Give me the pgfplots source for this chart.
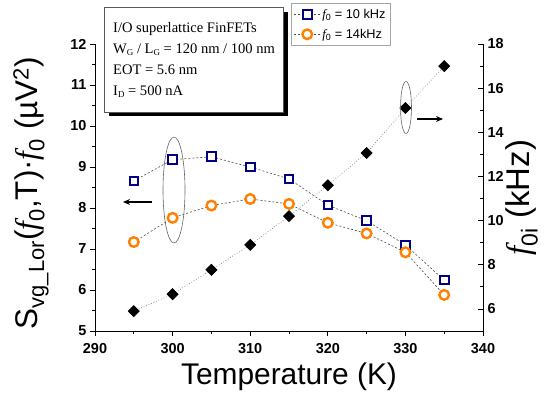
\documentclass[border=0pt]{standalone}
\usepackage{pgfplots}
\pgfplotsset{compat=1.18}
\usepackage{fontspec}
\setmainfont{Liberation Sans}
\newfontfamily\tnr{Liberation Serif}
\usetikzlibrary{arrows.meta}
\definecolor{navyc}{RGB}{0,0,128}
\definecolor{orangec}{RGB}{255,128,0}
\newcommand{\ff}{{\tnr\itshape f}}
\newcommand{\lsub}[1]{\raisebox{-0.35ex}{\fontsize{9}{10}\selectfont #1}}
\begin{document}
\begin{tikzpicture}[x=1bp,y=1bp]
\useasboundingbox (0,0) rectangle (547,395);
% text box with shadow
\fill[black] (109,279) rectangle (288,383);
\draw[gray!70!black, fill=white, line width=0.6bp] (104,283) rectangle (283,388);
\begin{scope}[every node/.style={anchor=base west, inner sep=0pt, font=\tnr\fontsize{14.6}{17}\selectfont}]
\node at (113,363) {I/O superlattice FinFETs};
\node at (113,342) {W\lsub{G} / L\lsub{G} = 120 nm / 100 nm};
\node at (113,321) {EOT = 5.6 nm};
\node at (113,300) {I\lsub{D} = 500 nA};
\end{scope}
\begin{axis}[
  at={(95bp,64bp)}, anchor=south west,
  width=388bp, height=287bp, scale only axis,
  xmin=290, xmax=340, ymin=5, ymax=12,
  axis x line*=bottom, axis y line*=left,
  xtick={290,300,...,340}, ytick={5,...,12},
  minor x tick num=1, minor y tick num=1,
  tick align=outside,
  major tick length=5bp, minor tick length=3bp,
  tick style={black, line width=0.8bp},
  axis line style={line width=0.8bp, -},
  /pgf/number format/assume math mode=true,
  ticklabel style={font=\fontsize{14.5}{16}\selectfont\bfseries},
  xticklabel style={yshift=-4bp},
  xlabel={Temperature (K)},
  ylabel={S\textsubscript{vg\_Lor}(\ff\textsubscript{0},T)·\ff\textsubscript{0} (µV\textsuperscript{2})},
  xlabel style={font=\fontsize{30}{32}\selectfont, at={(axis description cs:0.5,-0.185)}, anchor=base},
  ylabel style={font=\fontsize{31.5}{33}\selectfont, at={(axis description cs:-0.165,0.48)}, anchor=center},
  legend style={at={(0.505,1.143)}, anchor=north west, draw=gray!70, line width=0.5bp,
    font=\fontsize{12.8}{14}\selectfont, inner xsep=3bp, inner ysep=4bp, row sep=5bp, cells={anchor=west}},
  legend image code/.code={\draw[mark repeat=2,mark phase=2] plot coordinates {(0cm,0cm) (0.45cm,0cm) (0.9cm,0cm)};},
  clip=false,
]
\addplot[color=gray!60!black, dash pattern=on 2bp off 2bp, line width=0.6bp,
  mark=square*, mark size=4.3bp, mark options={solid, draw=navyc, fill=white, line width=2bp}]
  coordinates {(295,8.66)(300,9.18)(305,9.25)(310,9.0)(315,8.71)(320,8.07)(325,7.69)(330,7.10)(335,6.24)};
\addlegendentry{\ff\textsubscript{0} = 10 kHz}
\addplot[color=gray!60!black, dash pattern=on 2bp off 2bp, line width=0.6bp,
  mark=*, mark size=4.8bp, mark options={solid, draw=orangec, fill=white, line width=2.4bp}]
  coordinates {(295,7.17)(300,7.76)(305,8.06)(310,8.22)(315,8.10)(320,7.64)(325,7.38)(330,6.92)(335,5.88)};
\addlegendentry{\ff\textsubscript{0} = 14kHz}
\end{axis}
\begin{axis}[
  at={(95bp,64bp)}, anchor=south west,
  width=388bp, height=287bp, scale only axis,
  xmin=290, xmax=340, ymin=5, ymax=18,
  axis y line*=right, axis x line=none,
  ytick={6,8,...,18}, minor y tick num=1,
  tick align=inside,
  major tick length=5bp, minor tick length=3bp,
  tick style={black, line width=0.8bp},
  axis line style={line width=0.8bp, -},
  /pgf/number format/assume math mode=true,
  ticklabel style={font=\fontsize{14.5}{16}\selectfont\bfseries},
  yticklabel style={xshift=1bp},
  ylabel={\ff\textsubscript{0i} (kHz)},
  ylabel style={font=\fontsize{33}{35}\selectfont, at={(axis description cs:1.1,0.465)}, anchor=center},
  clip=false,
]
\addplot[color=gray, dotted, line width=0.7bp,
  mark=square*, mark size=3.9bp, mark options={solid, rotate=45, draw=black, fill=black}]
  coordinates {(295,5.9)(300,6.67)(305,7.77)(310,8.9)(315,10.2)(320,11.6)(325,13.06)(330,15.1)(335,17.0)};
\end{axis}
% annotations
\draw[gray!80!black, line width=0.6bp] (174,205) ellipse [x radius=11, y radius=53];
\draw[gray!80!black, line width=0.6bp] (406,287.5) ellipse [x radius=5.5, y radius=26];
\draw[line width=1.5bp, -{Stealth[length=7bp,width=6bp]}] (152,193) -- (123,193);
\draw[line width=1.5bp, -{Stealth[length=7bp,width=6bp]}] (417,276) -- (443,276);
\end{tikzpicture}
\end{document}
